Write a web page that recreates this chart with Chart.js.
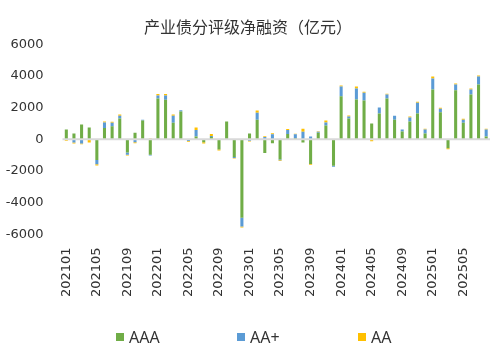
<!DOCTYPE html>
<html>
<head>
<meta charset="utf-8">
<script src="https://cdn.jsdelivr.net/npm/chart.js@4.4.1/dist/chart.umd.min.js"></script>
<style>
html,body{margin:0;padding:0;background:#fff}
#wrap{position:relative;width:490px;height:354px}
#legend{position:absolute;left:116px;top:328px;display:flex;font:16px "Noto Sans",sans-serif;color:#333}
#legend .item{width:121px;display:flex;align-items:center;height:18px}
#legend .box{width:8px;height:8px;margin-right:5px}
</style>
</head>
<body>
<div id="wrap">
  <canvas id="chart" width="490" height="354"></canvas>
  <div id="legend"></div>
</div>
<script>
// months 2021-01 .. 2025-08
const months=[
"202101","202102","202103","202104","202105","202106","202107","202108","202109","202110","202111","202112",
"202201","202202","202203","202204","202205","202206","202207","202208","202209","202210","202211","202212",
"202301","202302","202303","202304","202305","202306","202307","202308","202309","202310","202311","202312",
"202401","202402","202403","202404","202405","202406","202407","202408","202409","202410","202411","202412",
"202501","202502","202503","202504","202505","202506","202507","202508"];

// net financing by rating (亿元)
const aaa=[
 610, 360, 930, 740,-1310, 720, 820,1310, -840, 420,1180, -970,
2570,2490,1050,1750,    0, 170,-190, 150, -650,1120,-1120,-4950,
 360,1240,-870,-250,-1270, 340,  80,-200,-1560, 420, 870,-1670,
2720,1310,2510,2440,  990,1620,2570,1240,  490,1120,1620, 360,
3140,1700,-570,3100, 1050,2820,3460, 170];
const aaPlus=[
   0,-200,-270,   0, -270, 340, 230, 170, -130,-190,  60,  -60,
 190, 270, 440,  80, -110, 420,   0,  60,    0,   0, -60, -550,
-100, 440, 150, 320,  -60, 250, 230, 480,  170,  60, 190,  -60,
 610, 130, 690, 500,    0, 380, 250, 250,  130, 250, 690, 250,
 690, 230,   0, 360,  190, 320, 500, 440];
const aa=[
 -90, -60, -50,-200,  -80,  60,  60,  90,  -60, -60,   0,   50,
  90,  90,  80,   0,  -50, 150, -80, 130,  -60,   0, -40,  -60,
 -40, 130,  40,  60,  -40,  60,  40, 190,  -40,  20, 130,    0,
  60,  60, 130,  60, -130,   0,  60,   0,    0,  60,  60,  60,
 130,  60, -60,  60,   60,  60,  60,  60];

const seriesNames=["AAA","AA+","AA"];
const seriesColors=["#70AD47","#5B9BD5","#FFC000"];
const yTicks={min:-6000,max:6000,step:2000};

const tickFont={family:"DejaVu Sans",size:13};

// gray axis line through zero, on top of the bars like the original
const zeroLine={
  id:"zeroLine",
  afterDatasetsDraw(chart){
    const {ctx,chartArea:a,scales:{y}}=chart;
    const py=y.getPixelForValue(0);
    ctx.save();
    ctx.strokeStyle="#d9d9d9";
    ctx.lineWidth=2;
    ctx.beginPath();ctx.moveTo(a.left,py);ctx.lineTo(a.right,py);ctx.stroke();
    ctx.restore();
  }
};

const ds=[aaa,aaPlus,aa].map((d,i)=>({
  label:seriesNames[i],data:d,backgroundColor:seriesColors[i],
  barPercentage:0.4,categoryPercentage:1
}));

new Chart(document.getElementById("chart"),{
  type:"bar",
  data:{labels:months,datasets:ds},
  plugins:[zeroLine],
  options:{
    responsive:false,animation:false,devicePixelRatio:1,
    layout:{padding:{left:6,right:0,top:0,bottom:57}},
    plugins:{
      legend:{display:false},
      tooltip:{enabled:false},
      title:{display:true,text:"产业债分评级净融资（亿元）",color:"#333",
        font:{family:"Noto Sans CJK SC",size:16,weight:"normal"},padding:{top:17,bottom:8}}
    },
    scales:{
      x:{stacked:true,
        // invisible tick marks just to push the labels down
        grid:{color:"transparent",drawOnChartArea:false,drawTicks:true,tickLength:13},
        border:{display:false},
        ticks:{autoSkip:false,minRotation:90,maxRotation:90,padding:0,color:"#333",font:tickFont,
          callback:(v,i)=>i%4===0?months[i]:null}},
      y:{stacked:true,min:yTicks.min,max:yTicks.max,grid:{display:false,drawTicks:false},border:{display:false},
        ticks:{stepSize:yTicks.step,padding:19,color:"#333",font:tickFont,callback:v=>String(v)},
        afterFit:s=>{s.width=56.5;}}
    }
  }
});

// legend row under the chart
const lg=document.getElementById("legend");
seriesNames.forEach((n,i)=>{
  lg.innerHTML+=`<div class="item"><span class="box" style="background:${seriesColors[i]}"></span>${n}</div>`;
});
</script>
</body>
</html>
